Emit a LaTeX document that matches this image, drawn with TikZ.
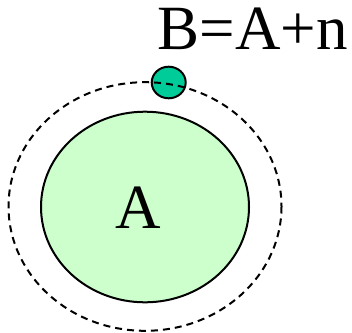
\documentclass[tikz,border=0pt]{standalone}
\usepackage{fontspec}
\setmainfont{Liberation Serif}
\definecolor{nucfill}{HTML}{CCFFCC}
\definecolor{ntfill}{HTML}{00CC99}
\tikzset{
  lbl/.style={font=\fontsize{63}{68}\selectfont, inner sep=0pt, anchor=base},
  orbit/.style={draw=black, line width=2pt, dash pattern=on 7pt off 5pt},
  solidline/.style={draw=black, line width=2pt}
}
\begin{document}
\begin{tikzpicture}[x=1pt,y=-1pt]
\useasboundingbox (0,0) rectangle (352,332);
\path[solidline, fill=nucfill] (145,207) ellipse [x radius=104, y radius=95.3];
\path[solidline, fill=ntfill] (168.7,82.5) ellipse [x radius=17, y radius=15.8];
\path[orbit] (145,206.5) ellipse [x radius=136.5, y radius=124.3];
\node[lbl] (a) at (138,228) {A};
\node[lbl] (b) at (252.5,49) {B=A+n};
\end{tikzpicture}
\end{document}
